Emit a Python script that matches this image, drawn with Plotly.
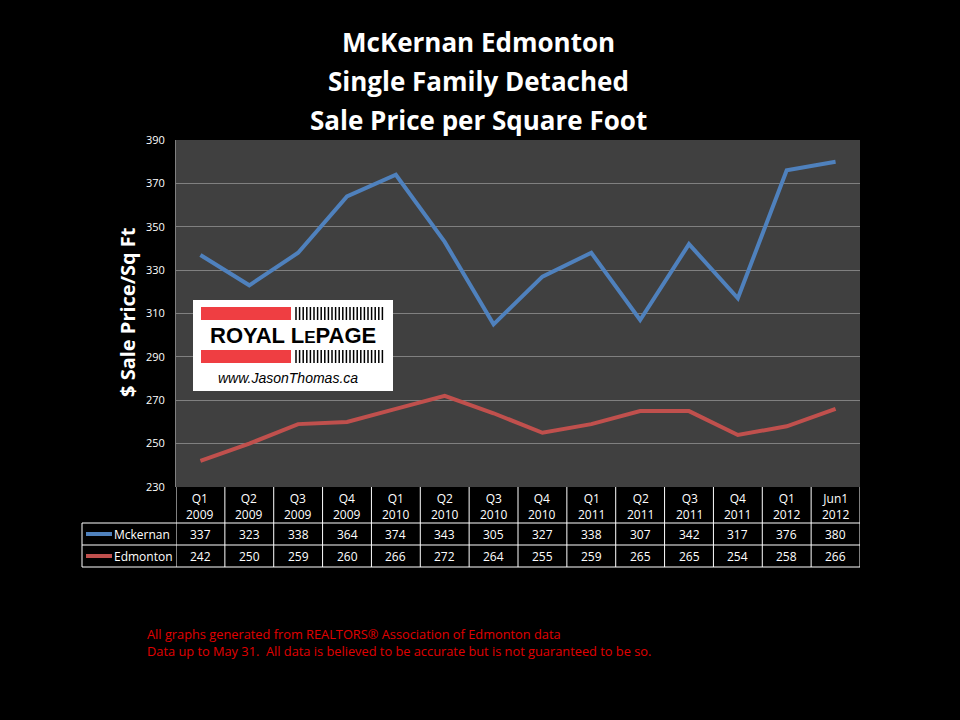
import plotly.graph_objects as go

categories = ["Q1 2009", "Q2 2009", "Q3 2009", "Q4 2009", "Q1 2010", "Q2 2010", "Q3 2010",
              "Q4 2010", "Q1 2011", "Q2 2011", "Q3 2011", "Q4 2011", "Q1 2012", "Jun1 2012"]
mckernan = [337, 323, 338, 364, 374, 343, 305, 327, 338, 307, 342, 317, 376, 380]
edmonton = [242, 250, 259, 260, 266, 272, 264, 255, 259, 265, 265, 254, 258, 266]
series_names = ["Mckernan", "Edmonton"]
series_colors = ["#4F81BD", "#C0504D"]
y_ticks = [230, 250, 270, 290, 310, 330, 350, 370, 390]

W, H = 960, 720
L, R, T, B = 176, 100, 140, 233
PW, PH = W - L - R, H - T - B

def px(p):
    return (p - L) / PW

def py(p):
    return (H - B - p) / PH

FONT = "Open Sans"
fig = go.Figure()
for name, vals, col in zip(series_names, [mckernan, edmonton], series_colors):
    fig.add_trace(go.Scatter(x=list(range(len(categories))), y=vals, mode="lines", name=name,
                             line=dict(color=col, width=4), showlegend=False))

shapes = []
annotations = []

# title
for i, t in enumerate(["McKernan Edmonton", "Single Family Detached", "Sale Price per Square Foot"]):
    annotations.append(dict(text="<b>" + t + "</b>", x=px(478), y=py(42 + 39 * i), xref="paper", yref="paper",
                            showarrow=False, font=dict(family=FONT, size=26, color="white"),
                            xanchor="center", yanchor="middle"))

# y axis title
annotations.append(dict(text="<b>$ Sale Price/Sq Ft</b>", x=px(127), y=py(312), xref="paper", yref="paper",
                        showarrow=False, textangle=-90, font=dict(family=FONT, size=20, color="white"),
                        xanchor="center", yanchor="middle"))

# data table
top, r1, r2, bot = 487, 523, 545, 567
n = len(categories)
white = dict(color="white", width=1)
for i in range(n + 1):
    shapes.append(dict(type="line", xref="x", yref="paper", x0=i - 0.5, x1=i - 0.5,
                       y0=py(top), y1=py(bot), line=white))
shapes.append(dict(type="line", xref="paper", yref="paper", x0=px(82), x1=px(82), y0=py(r1), y1=py(bot), line=white))
for yy in (r1, r2, bot):
    shapes.append(dict(type="line", xref="paper", yref="paper", x0=px(82), x1=1, y0=py(yy), y1=py(yy), line=white))
for i, c in enumerate(categories):
    q, yr = c.split(" ")
    annotations.append(dict(text=q + "<br>" + yr, x=i, y=py((top + r1) / 2 + 1), xref="x", yref="paper",
                            showarrow=False, font=dict(family=FONT, size=12, color="white"),
                            xanchor="center", yanchor="middle"))
for row, (vals, yc) in enumerate([(mckernan, (r1 + r2) / 2), (edmonton, (r2 + bot) / 2)]):
    for i, v in enumerate(vals):
        annotations.append(dict(text=str(v), x=i, y=py(yc), xref="x", yref="paper", showarrow=False,
                                font=dict(family=FONT, size=12, color="white"),
                                xanchor="center", yanchor="middle"))
    shapes.append(dict(type="line", xref="paper", yref="paper", x0=px(86), x1=px(112), y0=py(yc), y1=py(yc),
                       line=dict(color=series_colors[row], width=4)))
    annotations.append(dict(text=series_names[row], x=px(112), y=py(yc), xref="paper", yref="paper",
                            showarrow=False, font=dict(family=FONT, size=12, color="white"),
                            xanchor="left", yanchor="middle"))

# logo
shapes.append(dict(type="rect", xref="paper", yref="paper", x0=px(193), x1=px(393), y0=py(391), y1=py(300),
                   fillcolor="white", line=dict(width=0), layer="above"))
for (a, b) in [(307, 320), (350, 363)]:
    shapes.append(dict(type="rect", xref="paper", yref="paper", x0=px(201), x1=px(291), y0=py(b), y1=py(a),
                       fillcolor="#EF3E42", line=dict(width=0), layer="above"))
    xs = 296
    while xs < 386:
        shapes.append(dict(type="line", xref="paper", yref="paper", x0=px(xs), x1=px(xs), y0=py(b), y1=py(a),
                           line=dict(color="black", width=1.5), layer="above"))
        xs += 3.6
annotations.append(dict(text="<b>ROYAL L<span style='font-size:17px'>E</span>PAGE</b>", x=px(293), y=py(335),
                        xref="paper", yref="paper", showarrow=False,
                        font=dict(family="Liberation Sans", size=22, color="black"),
                        xanchor="center", yanchor="middle"))
annotations.append(dict(text="<i>www.JasonThomas.ca</i>", x=px(288), y=py(378), xref="paper", yref="paper",
                        showarrow=False, font=dict(family="Liberation Sans", size=14, color="black"),
                        xanchor="center", yanchor="middle"))

# footer
for i, t in enumerate(["All graphs generated from REALTORS\u00ae Association of Edmonton data",
                       "Data up to May 31.  All data is believed to be accurate but is not guaranteed to be so."]):
    annotations.append(dict(text=t, x=px(145), y=py(634 + 17 * i), xref="paper", yref="paper", showarrow=False,
                            font=dict(family=FONT, size=12.8, color="#E00000"),
                            xanchor="left", yanchor="middle"))

fig.update_layout(
    width=W, height=H, margin=dict(l=L, r=R, t=T, b=B),
    paper_bgcolor="black", plot_bgcolor="#404040",
    shapes=shapes, annotations=annotations,
    xaxis=dict(range=[-0.5, n - 0.5], showticklabels=False, showgrid=False, zeroline=False,
               showline=False, fixedrange=True),
    yaxis=dict(range=[230, 390], tickvals=y_ticks, showgrid=True, gridcolor="#808080", gridwidth=1,
               zeroline=False, showline=True, linecolor="#808080",
               tickfont=dict(family=FONT, size=11, color="white"), ticks="", ticklabelstandoff=8),
)

fig.write_html("out.html")
